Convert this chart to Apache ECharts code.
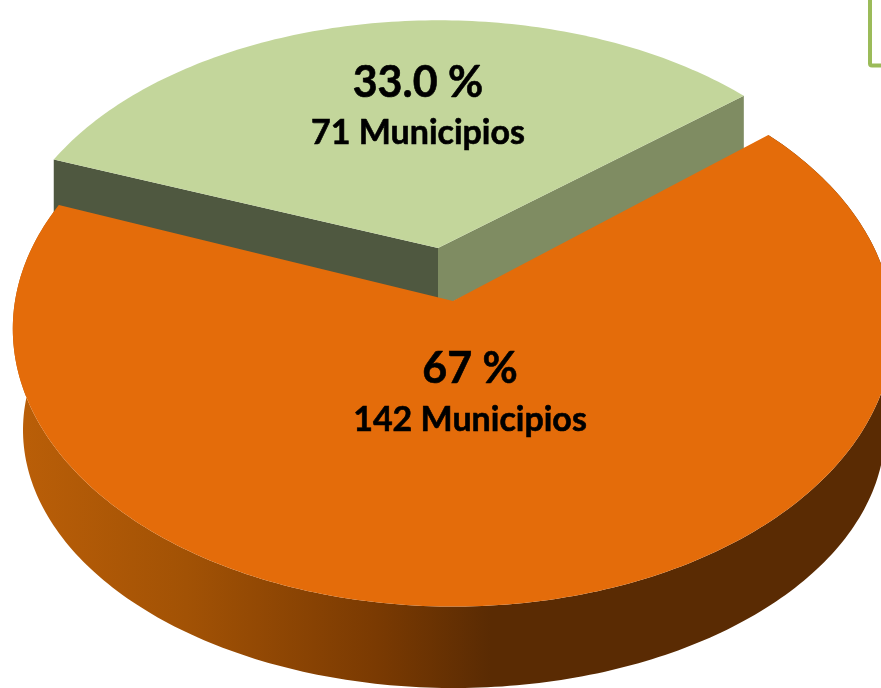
<!DOCTYPE html>
<html>
<head>
<meta charset="utf-8">
<style>
html, body { margin: 0; padding: 0; background: #fff; }
#main { width: 881px; height: 688px; }
</style>
<script src="https://cdn.jsdelivr.net/npm/echarts@6/dist/echarts.min.js"></script>
</head>
<body>
<div id="main"></div>
<script>
// valores
var percentLabels = ['33.0 %', '67 %'];
var percentValues = [33, 67];
var municipios = [71, 142];
var faceColors = ['#c3d69b', '#e46c0a'];

var startAngle = 40; // grados, borde derecho de la rebanada verde

// cada rebanada tiene su propia proyeccion porque la verde esta separada
var views = [
    { cx: 438, cy: 248, rx: 430, ry: 255, k: 0.12, depth: 51, textX: 418, textY: 83, subY: 133 },
    { cx: 453, cy: 301, rx: 438, ry: 275, k: 0.1, textX: 470, textY: 369, subY: 420 }
];
// base de la pared curva, mas pequena por la perspectiva
var baseView = { cx: 454, cy: 430, rx: 431, ry: 258, k: 0 };

function project(view, deg, dy) {
    var a = deg * Math.PI / 180;
    var u = Math.cos(a), v = Math.sin(a);
    var s = 1 / (1 + view.k * v);
    return [view.cx + view.rx * u * s, view.cy + (dy || 0) - view.ry * v * s];
}

function arc(view, from, to) {
    var pts = [];
    var n = Math.ceil(Math.abs(to - from));
    for (var i = 0; i <= n; i++) {
        pts.push(project(view, from + (to - from) * i / n));
    }
    return pts;
}

function renderSlice(params, api) {
    var i = params.dataIndex;
    var view = views[i];
    var total = percentValues[0] + percentValues[1];
    var sweep = api.value(1) / total * 360;
    var from = i === 0 ? startAngle : startAngle + percentValues[0] / total * 360;
    var to = from + sweep;
    var apex = [view.cx, view.cy];
    var children = [];

    if (i === 0) {
        // caras del corte de la rebanada separada (la derecha sigue bajo el naranja)
        children.push({
            type: 'polygon',
            shape: { points: [apex, project(view, from), project(view, from, view.depth + 10), [view.cx, view.cy + view.depth + 10]] },
            style: { fill: '#7f8c62' }
        });
        children.push({
            type: 'polygon',
            shape: { points: [apex, project(view, to), project(view, to, view.depth + 4), [view.cx, view.cy + view.depth + 4]] },
            style: { fill: '#4f5840' }
        });
    } else {
        // pared curva
        children.push({
            type: 'polygon',
            shape: { points: arc(view, from, to).concat(arc(baseView, to, from)) },
            style: {
                fill: new echarts.graphic.LinearGradient(13, 0, 881, 0, [
                    { offset: 0, color: '#bb5f08' },
                    { offset: 0.2, color: '#a25205' },
                    { offset: 0.42, color: '#7a3a02' },
                    { offset: 0.55, color: '#5a2b03' },
                    { offset: 1, color: '#5a2b03' }
                ], true)
            }
        });
    }

    children.push({
        type: 'polygon',
        shape: { points: [apex].concat(arc(view, from, to)) },
        style: { fill: faceColors[i] }
    });
    children.push({
        type: 'text',
        style: {
            x: view.textX, y: view.textY, text: percentLabels[i],
            font: 'bold 43px Lato', fill: '#000', stroke: '#000', lineWidth: 0.6,
            align: 'center', verticalAlign: 'middle'
        }
    });
    children.push({
        type: 'text',
        style: {
            x: view.textX, y: view.subY, text: api.value(2) + ' Municipios',
            font: 'bold 34px Lato', fill: '#000', stroke: '#000', lineWidth: 0.6,
            align: 'center', verticalAlign: 'middle'
        }
    });
    return { type: 'group', children: children };
}

var myChart = echarts.init(document.getElementById('main'));
var option = {
    animation: false,
    backgroundColor: '#fff',
    graphic: [{
        type: 'rect',
        shape: { x: 870, y: -10, width: 40, height: 75.5, r: 2 },
        style: { fill: '#fff', stroke: '#9bbb59', lineWidth: 4 }
    }],
    series: [{
        type: 'custom',
        coordinateSystem: 'none',
        renderItem: renderSlice,
        data: percentValues.map(function (val, idx) {
            return [idx, val, municipios[idx]];
        })
    }]
};
myChart.setOption(option);
</script>
</body>
</html>
